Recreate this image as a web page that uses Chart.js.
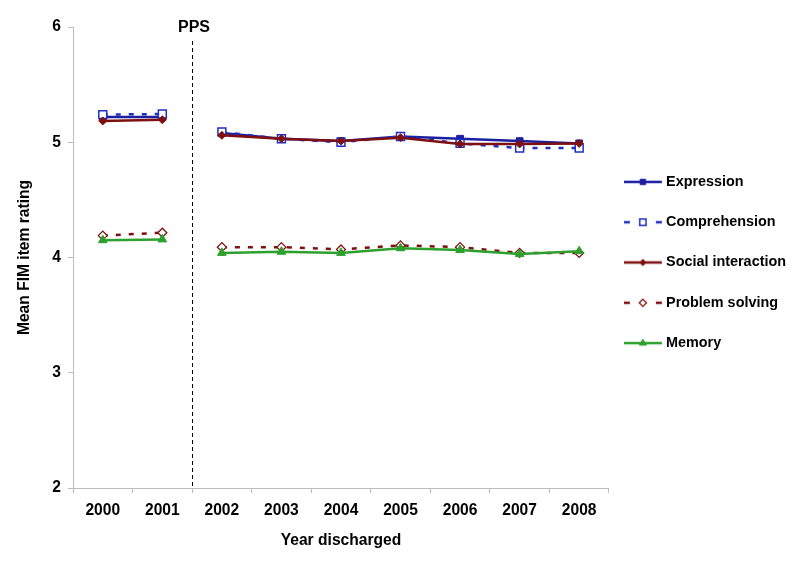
<!DOCTYPE html>
<html><head><meta charset="utf-8">
<script src="https://cdn.jsdelivr.net/npm/chart.js@4/dist/chart.umd.min.js"></script>
<style>html,body{margin:0;padding:0;background:#fff}#wrap{width:800px;height:561px;position:relative}</style>
</head><body><div id="wrap"><canvas id="c"></canvas></div>
<script>
const years = ['2000','2001','2002','2003','2004','2005','2006','2007','2008'];
const expression    = [5.22, 5.22, 5.08, 5.03, 5.01, 5.05, 5.03, 5.01, 4.99];
const comprehension = [5.24, 5.245, 5.09, 5.03, 5.00, 5.05, 4.99, 4.95, 4.95];
const social        = [5.185, 5.195, 5.06, 5.03, 5.01, 5.04, 4.985, 4.985, 4.99];
const problem       = [4.19, 4.215, 4.09, 4.09, 4.07, 4.105, 4.09, 4.04, 4.04];
const memory        = [4.15, 4.157, 4.04, 4.05, 4.04, 4.08, 4.065, 4.03, 4.055];
const seriesNames = ['Expression','Comprehension','Social interaction','Problem solving','Memory'];
const yTicks = [2, 3, 4, 5, 6];
const ppsLabel = 'PPS';

const FONT = 'Arial, "Liberation Sans", sans-serif';
const BLUE = '#1C1FA0', BLUE2 = '#1F2FC0', RED = '#7E1010', GREEN = '#2EA02E';
const AXFONT = { family: FONT, size: 15.6, weight: 'bold' };

const styles = [
  {color: BLUE,  dash: [],    point: 'rect',    radius: 4.8, fill: BLUE,  bw: 1},
  {color: BLUE2, dash: [5,8], point: 'rect',    radius: 5.6, fill: '#fff', bw: 1.5},
  {color: RED,   dash: [],    point: 'rectRot', radius: 4,   fill: RED,   bw: 1},
  {color: RED,   dash: [5,8], point: 'rectRot', radius: 4.5, fill: '#fff', bw: 1.3},
  {color: GREEN, dash: [],    point: 'triangle',radius: 5,   fill: GREEN, bw: 1}
];

function legendIcon(s) {
  const c = document.createElement('canvas');
  c.width = 46; c.height = 14;
  const g = c.getContext('2d');
  g.strokeStyle = s.color; g.lineWidth = 2.5;
  g.beginPath();
  if (s.dash.length) { g.moveTo(0,7); g.lineTo(6,7); g.moveTo(32,7); g.lineTo(38,7); }
  else { g.moveTo(0,7); g.lineTo(38,7); }
  g.stroke();
  g.fillStyle = s.fill; g.strokeStyle = s.color; g.lineWidth = s.bw;
  Chart.helpers.drawPoint(g, {pointStyle: s.point, radius: s.radius * 0.8, borderWidth: s.bw, rotation: 0}, 19, 7);
  return c;
}

const seriesData = [expression, comprehension, social, problem, memory];
const datasets = seriesData.map((d, i) => {
  const s = styles[i];
  return {
    label: seriesNames[i],
    data: d,
    order: 4 - i,
    borderColor: s.color,
    backgroundColor: s.fill,
    borderWidth: 2.5,
    borderDash: s.dash,
    pointStyle: s.point,
    pointRadius: s.radius,
    pointHoverRadius: s.radius,
    pointBackgroundColor: s.fill,
    pointBorderColor: s.color,
    pointBorderWidth: s.bw,
    tension: 0,
    segment: { borderColor: ctx => ctx.p0DataIndex === 1 ? 'rgba(0,0,0,0)' : undefined }
  };
});
const icons = styles.map(legendIcon);

const ppsPlugin = {
  id: 'pps',
  afterDatasetsDraw(chart) {
    const ctx = chart.ctx, xs = chart.scales.x;
    const px = Math.round((xs.getPixelForValue(1) + xs.getPixelForValue(2)) / 2) + 0.5;
    const {top, bottom} = chart.chartArea;
    ctx.save();
    ctx.strokeStyle = '#000'; ctx.lineWidth = 1; ctx.setLineDash([4,3]);
    ctx.beginPath(); ctx.moveTo(px, top + 14); ctx.lineTo(px, bottom); ctx.stroke();
    ctx.setLineDash([]);
    ctx.fillStyle = '#000'; ctx.font = 'bold 16px ' + FONT;
    ctx.textAlign = 'center'; ctx.textBaseline = 'middle';
    ctx.fillText(ppsLabel, px + 1.5, top + 1);
    ctx.restore();
  }
};

new Chart(document.getElementById('c'), {
  type: 'line',
  data: { labels: years, datasets },
  plugins: [ppsPlugin],
  options: {
    responsive: true, maintainAspectRatio: false, animation: false,
    layout: { padding: { top: 27, left: 0, right: 4, bottom: 0 } },
    plugins: {
      tooltip: { enabled: false },
      legend: {
        position: 'right', align: 'center', fullSize: false,
        title: { display: true, text: '', padding: 5, font: { size: 0 } },
        labels: {
          usePointStyle: true, pointStyleWidth: 24, padding: 25.9,
          color: '#000', font: { family: FONT, size: 14.4, weight: 'bold' },
          generateLabels(chart) {
            return seriesNames.map((n, i) => ({
              text: n, datasetIndex: i, pointStyle: icons[i],
              fillStyle: styles[i].fill, strokeStyle: styles[i].color, lineWidth: 0,
              fontColor: '#000', hidden: false
            }));
          }
        }
      }
    },
    scales: {
      x: {
        offset: true,
        grid: { drawOnChartArea: false, offset: true, tickLength: 5, color: '#BDBDBD' },
        border: { color: '#BDBDBD' },
        ticks: { color: '#000', font: AXFONT, padding: 8, maxRotation: 0 },
        title: { display: true, text: 'Year discharged', color: '#000', font: AXFONT, padding: { top: 0, bottom: 11 } },
        afterFit(s) { s.height = 73; }
      },
      y: {
        min: 2, max: 6,
        afterBuildTicks(s) { s.ticks = yTicks.map(v => ({ value: v })); },
        grid: { drawOnChartArea: false, tickLength: 5, color: '#BDBDBD' },
        border: { color: '#BDBDBD' },
        ticks: { color: '#000', font: AXFONT, padding: 7 },
        title: { display: true, text: 'Mean FIM item rating', color: '#000', font: AXFONT, padding: { top: 15, bottom: 0 } },
        afterFit(s) { s.width = 73; }
      }
    }
  }
});
</script>
</body></html>
